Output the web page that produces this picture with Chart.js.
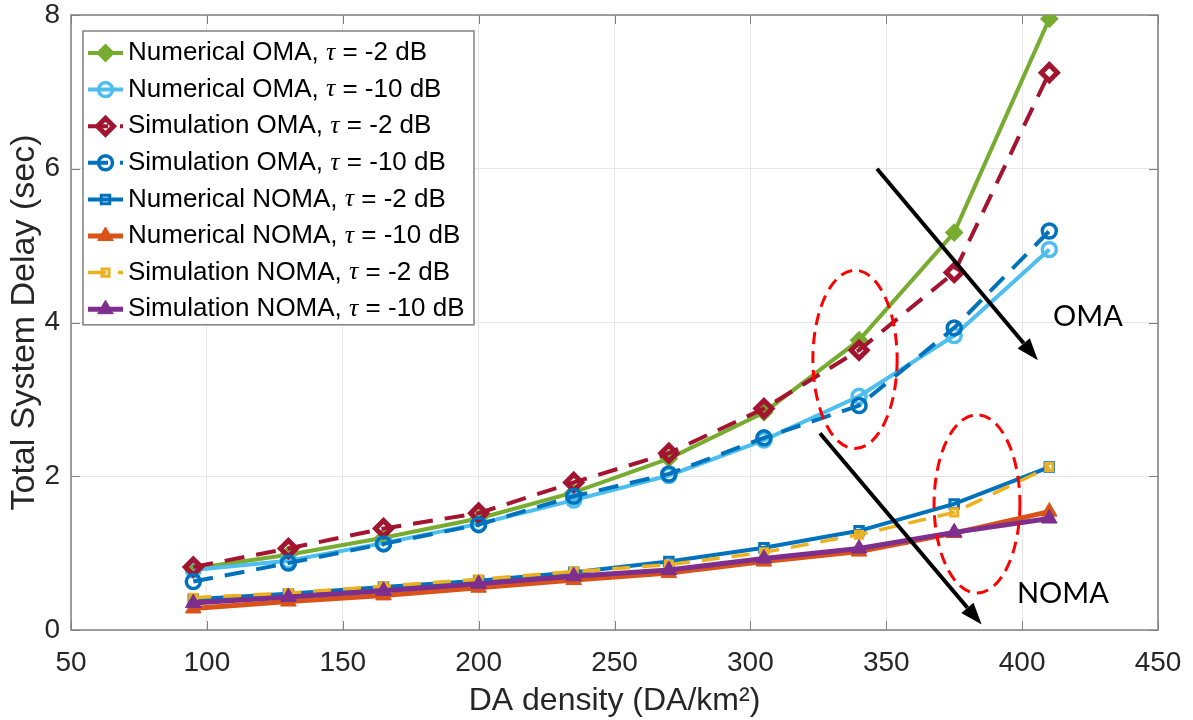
<!DOCTYPE html>
<html>
<head>
<meta charset="utf-8">
<script src="https://cdn.jsdelivr.net/npm/chart.js@4.4.0/dist/chart.umd.min.js"></script>
<style>
  html, body { margin: 0; padding: 0; background: #fff; }
</style>
</head>
<body>
<canvas id="myChart" width="1193" height="720"></canvas>
<script>
// DA density (DA/km^2) where the curves were evaluated
let daDensity = [95, 130, 165, 200, 235, 270, 305, 340, 375, 410];

// Total system delay (sec)
let numOmaTau2   = [0.80, 0.98, 1.20, 1.45, 1.79, 2.23, 2.83, 3.77, 5.17, 7.95];
let numOmaTau10  = [0.78, 0.90, 1.13, 1.38, 1.69, 2.01, 2.47, 3.04, 3.83, 4.95];
let simOmaTau2   = [0.82, 1.06, 1.32, 1.52, 1.92, 2.30, 2.88, 3.64, 4.65, 7.25];
let simOmaTau10  = [0.63, 0.87, 1.12, 1.37, 1.74, 2.03, 2.50, 2.92, 3.93, 5.19];
let numNomaTau2  = [0.40, 0.47, 0.56, 0.64, 0.75, 0.89, 1.07, 1.29, 1.64, 2.12];
let numNomaTau10 = [0.28, 0.37, 0.45, 0.55, 0.65, 0.74, 0.89, 1.02, 1.26, 1.54];
let simNomaTau2  = [0.42, 0.48, 0.57, 0.66, 0.76, 0.85, 1.01, 1.24, 1.53, 2.12];
let simNomaTau10 = [0.35, 0.43, 0.51, 0.60, 0.70, 0.78, 0.93, 1.06, 1.27, 1.45];

// Legend names and tau values, same order as the datasets
let seriesNames = ['Numerical OMA', 'Numerical OMA', 'Simulation OMA', 'Simulation OMA',
                   'Numerical NOMA', 'Numerical NOMA', 'Simulation NOMA', 'Simulation NOMA'];
let tauValues = ['-2', '-10', '-2', '-10', '-2', '-10', '-2', '-10'];

// Axis ranges
let xMin = 50, xMax = 450, xStep = 50;
let yMin = 0, yMax = 8, yStep = 2;

// Annotations in data units: ellipses, arrows and labels
let ellipses = [
  { cx: 338.5, cy: 3.52, rx: 15.5, ry: 1.16 },
  { cx: 383.4, cy: 1.64, rx: 15.8, ry: 1.16 }
];
let arrows = [
  { x1: 346.6, y1: 6.00, x2: 405.8, y2: 3.51 },
  { x1: 325.6, y1: 2.56, x2: 385.1, y2: 0.07 }
];
let noteLabels = [
  { text: 'OMA', x: 424.2, y: 4.08 },
  { text: 'NOMA', x: 415.0, y: 0.47 }
];

function toPoints(values) {
  return values.map(function(v, i) { return { x: daDensity[i], y: v }; });
}

let none = 'rgba(0,0,0,0)';
let datasets = [
  { data: toPoints(numOmaTau2), borderColor: '#77AC30', borderWidth: 4,
    pointStyle: 'rectRot', pointRadius: 8, pointBackgroundColor: '#77AC30', pointBorderColor: '#77AC30', pointBorderWidth: 2 },
  { data: toPoints(numOmaTau10), borderColor: '#4DBEEE', borderWidth: 4,
    pointStyle: 'circle', pointRadius: 7, pointBackgroundColor: none, pointBorderColor: '#4DBEEE', pointBorderWidth: 3.5 },
  { data: toPoints(simOmaTau2), borderColor: '#A2142F', borderWidth: 4, borderDash: [20, 12],
    pointStyle: 'rectRot', pointRadius: 8, pointBackgroundColor: none, pointBorderColor: '#A2142F', pointBorderWidth: 5 },
  { data: toPoints(simOmaTau10), borderColor: '#0072BD', borderWidth: 4, borderDash: [20, 12],
    pointStyle: 'circle', pointRadius: 7, pointBackgroundColor: none, pointBorderColor: '#0072BD', pointBorderWidth: 3.5 },
  { data: toPoints(numNomaTau2), borderColor: '#0072BD', borderWidth: 4,
    pointStyle: 'rect', pointRadius: 6, pointBackgroundColor: none, pointBorderColor: '#0072BD', pointBorderWidth: 3 },
  { data: toPoints(numNomaTau10), borderColor: '#D95319', borderWidth: 5,
    pointStyle: 'triangle', pointRadius: 9, pointBackgroundColor: '#D95319', pointBorderColor: '#D95319', pointBorderWidth: 1 },
  { data: toPoints(simNomaTau2), borderColor: '#EDB120', borderWidth: 3.5, borderDash: [18, 12],
    pointStyle: 'rect', pointRadius: 5, pointBackgroundColor: none, pointBorderColor: '#EDB120', pointBorderWidth: 3 },
  { data: toPoints(simNomaTau10), borderColor: '#7E2F8E', borderWidth: 5,
    pointStyle: 'triangle', pointRadius: 9, pointBackgroundColor: '#7E2F8E', pointBorderColor: '#7E2F8E', pointBorderWidth: 1 }
];
// later series on top, as in the original figure
datasets.forEach(function(ds, i) {
  ds.label = seriesNames[i] + ', \u03c4 = ' + tauValues[i] + ' dB';
  ds.order = datasets.length - i;
  ds.fill = false;
  ds.tension = 0;
});

let axisColor = '#808080';
let textColor = '#262626';

// Box around the plot and MATLAB style inward ticks
let boxPlugin = {
  id: 'boxPlugin',
  beforeDatasetsDraw: function(chart) {
    let ctx = chart.ctx;
    let a = chart.chartArea;
    let xs = chart.scales.x, ys = chart.scales.y;
    ctx.save();
    ctx.strokeStyle = axisColor;
    ctx.lineWidth = 1.5;
    ctx.strokeRect(a.left, a.top, a.right - a.left, a.bottom - a.top);
    ctx.lineWidth = 1;
    for (let v = xMin; v <= xMax; v += xStep) {
      let px = Math.round(xs.getPixelForValue(v)) + 0.5;
      ctx.beginPath();
      ctx.moveTo(px, a.bottom); ctx.lineTo(px, a.bottom - 9);
      ctx.moveTo(px, a.top); ctx.lineTo(px, a.top + 9);
      ctx.stroke();
    }
    for (let v = yMin; v <= yMax; v += yStep) {
      let py = Math.round(ys.getPixelForValue(v)) + 0.5;
      ctx.beginPath();
      ctx.moveTo(a.left, py); ctx.lineTo(a.left + 9, py);
      ctx.moveTo(a.right, py); ctx.lineTo(a.right - 9, py);
      ctx.stroke();
    }
    ctx.restore();
  }
};

// Red dashed ellipses, black arrows and the OMA / NOMA notes
let notePlugin = {
  id: 'notePlugin',
  afterDatasetsDraw: function(chart) {
    let ctx = chart.ctx;
    let xs = chart.scales.x, ys = chart.scales.y;
    ctx.save();
    ctx.strokeStyle = '#FF0000';
    ctx.lineWidth = 3;
    ctx.setLineDash([12, 7]);
    ellipses.forEach(function(e) {
      let cx = xs.getPixelForValue(e.cx), cy = ys.getPixelForValue(e.cy);
      let rx = xs.getPixelForValue(e.cx + e.rx) - cx;
      let ry = cy - ys.getPixelForValue(e.cy + e.ry);
      ctx.beginPath();
      ctx.ellipse(cx, cy, rx, ry, 0, 0, Math.PI * 2);
      ctx.stroke();
    });
    ctx.setLineDash([]);
    ctx.strokeStyle = '#000';
    ctx.fillStyle = '#000';
    ctx.lineWidth = 4;
    arrows.forEach(function(ar) {
      let x1 = xs.getPixelForValue(ar.x1), y1 = ys.getPixelForValue(ar.y1);
      let x2 = xs.getPixelForValue(ar.x2), y2 = ys.getPixelForValue(ar.y2);
      let ang = Math.atan2(y2 - y1, x2 - x1);
      let head = 22, half = 8;
      let bx = x2 - head * Math.cos(ang), by = y2 - head * Math.sin(ang);
      ctx.beginPath();
      ctx.moveTo(x1, y1);
      ctx.lineTo(bx, by);
      ctx.stroke();
      ctx.beginPath();
      ctx.moveTo(x2, y2);
      ctx.lineTo(bx + half * Math.sin(ang), by - half * Math.cos(ang));
      ctx.lineTo(bx - half * Math.sin(ang), by + half * Math.cos(ang));
      ctx.closePath();
      ctx.fill();
    });
    ctx.font = '29px Lato, "Open Sans", sans-serif';
    ctx.textAlign = 'center';
    ctx.textBaseline = 'middle';
    noteLabels.forEach(function(n) {
      ctx.fillText(n.text, xs.getPixelForValue(n.x), ys.getPixelForValue(n.y));
    });
    ctx.restore();
  }
};

// Legend box in the upper left corner of the plot
let legendPlugin = {
  id: 'legendPlugin',
  afterDatasetsDraw: function(chart) {
    let ctx = chart.ctx;
    let a = chart.chartArea;
    let left = a.left + 12, top = a.top + 16;
    let w = 391, rowH = 36.6;
    let h = rowH * datasets.length + 1;
    ctx.save();
    ctx.fillStyle = '#fff';
    ctx.fillRect(left, top, w, h);
    ctx.strokeStyle = axisColor;
    ctx.lineWidth = 1.5;
    ctx.strokeRect(left, top, w, h);
    let sans = '26px "Liberation Sans", Arial, sans-serif';
    let serif = 'italic 26px "Liberation Serif", "Times New Roman", serif';
    chart.data.datasets.forEach(function(ds, i) {
      let cy = top + 22 + i * rowH;
      let lx1 = left + 5, lx2 = left + 40;
      ctx.strokeStyle = ds.borderColor;
      ctx.lineWidth = ds.borderWidth;
      ctx.setLineDash(ds.borderDash || []);
      ctx.beginPath();
      ctx.moveTo(lx1, cy); ctx.lineTo(lx2, cy);
      ctx.stroke();
      ctx.setLineDash([]);
      ctx.fillStyle = ds.pointBackgroundColor;
      ctx.strokeStyle = ds.pointBorderColor;
      ctx.lineWidth = ds.pointBorderWidth;
      Chart.helpers.drawPoint(ctx, { pointStyle: ds.pointStyle, radius: ds.pointRadius, rotation: 0, borderWidth: ds.pointBorderWidth }, (lx1 + lx2) / 2, cy);
      // text: name, italic tau, value
      ctx.fillStyle = '#000';
      ctx.textBaseline = 'middle';
      ctx.textAlign = 'left';
      let tx = left + 45;
      let part1 = seriesNames[i] + ', ';
      ctx.font = sans;
      ctx.fillText(part1, tx, cy);
      tx += ctx.measureText(part1).width;
      ctx.font = serif;
      ctx.fillText('\u03c4', tx, cy);
      tx += ctx.measureText('\u03c4').width;
      ctx.font = sans;
      ctx.fillText(' = ' + tauValues[i] + ' dB', tx, cy);
    });
    ctx.restore();
  }
};

let ctx = document.getElementById('myChart');
let myChart = new Chart(ctx, {
  type: 'line',
  data: { datasets: datasets },
  plugins: [boxPlugin, notePlugin, legendPlugin],
  options: {
    responsive: false,
    animation: false,
    layout: { padding: { top: 15, right: 35, left: 0, bottom: 0 } },
    plugins: {
      legend: { display: false },
      tooltip: { enabled: false }
    },
    scales: {
      x: {
        type: 'linear',
        min: xMin, max: xMax,
        ticks: { stepSize: xStep, color: textColor, padding: 19,
                 font: { family: '"Liberation Sans", Arial, sans-serif', size: 28, lineHeight: 1 } },
        grid: { color: '#e6e6e6', drawTicks: false },
        border: { display: false },
        title: { display: true, text: 'DA density (DA/km\u00b2)', color: textColor,
                 padding: { top: 0, bottom: 0 },
                 font: { family: '"Liberation Sans", Arial, sans-serif', size: 32, lineHeight: 1.2 } },
        afterFit: function(scale) {
          scale.height = 90;
          scale.paddingLeft = 0;
          scale.paddingRight = 0;
        }
      },
      y: {
        type: 'linear',
        min: yMin, max: yMax,
        ticks: { stepSize: yStep, color: textColor, padding: 11,
                 font: { family: '"Liberation Sans", Arial, sans-serif', size: 28, lineHeight: 1 } },
        grid: { color: '#e6e6e6', drawTicks: false },
        border: { display: false },
        title: { display: true, text: 'Total System Delay (sec)', color: textColor,
                 padding: { top: 4, bottom: 0 },
                 font: { family: '"Liberation Sans", Arial, sans-serif', size: 34, lineHeight: 1.2 } },
        afterFit: function(scale) {
          scale.width = 71;
          scale.paddingTop = 0;
          scale.paddingBottom = 0;
        }
      }
    }
  }
});
</script>
</body>
</html>
